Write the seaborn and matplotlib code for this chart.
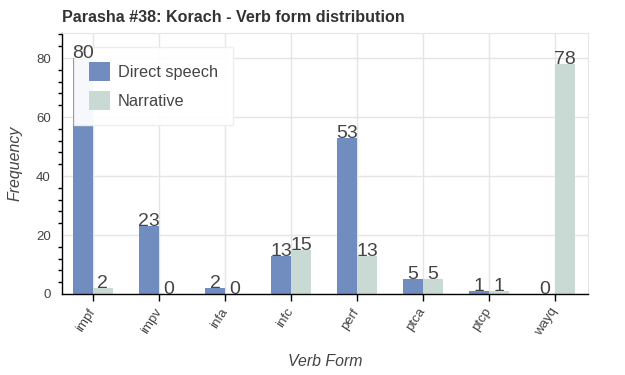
import numpy as np
import pandas as pd
import matplotlib
matplotlib.use("Agg")
import matplotlib.pyplot as plt
from matplotlib.patches import Patch
from matplotlib.ticker import MultipleLocator
import seaborn as sns

# verb form counts for Korach
forms = ["impf", "impv", "infa", "infc", "perf", "ptca", "ptcp", "wayq"]
direct_speech = [80, 23, 2, 13, 53, 5, 1, 0]
narrative = [2, 0, 0, 15, 13, 5, 1, 78]
series_names = ["Direct speech", "Narrative"]
colors = ["#718dbf", "#c9d9d3"]

df = pd.DataFrame({
    "form": forms * 2,
    "count": direct_speech + narrative,
    "type": [series_names[0]] * len(forms) + [series_names[1]] * len(forms),
})

sns.set_style("white")
plt.rcParams["font.family"] = ["Liberation Sans", "DejaVu Sans"]
txt = "#444444"

fig = plt.figure(figsize=(6.25, 3.75), dpi=100)
ax = fig.add_axes([62 / 625, 1 - 294 / 375, 526 / 625, 261 / 375])

sns.barplot(data=df, x="form", y="count", hue="type", palette=colors,
            saturation=1, width=0.6, gap=0, ax=ax, legend=False,
            edgecolor="none", linewidth=0, zorder=2)

# value labels on top of each bar (drawn above the legend, like the original)
for cont in ax.containers:
    for bar in cont:
        h = bar.get_height()
        ax.text(bar.get_x() + bar.get_width() / 2, h, f"{int(h)}",
                ha="center", va="baseline", fontsize=14, color=txt, zorder=10)

ax.set_xlim(-0.47, 7.5)
ax.set_ylim(0, 88.5)
ax.yaxis.set_major_locator(MultipleLocator(20))
ax.yaxis.set_minor_locator(MultipleLocator(4))

ax.grid(True, which="major", color="#e5e5e5", linewidth=1, zorder=0)
ax.set_axisbelow(True)

for s in ["top", "right"]:
    ax.spines[s].set_color("#e5e5e5")
    ax.spines[s].set_linewidth(0.8)
for s in ["left", "bottom"]:
    ax.spines[s].set_color("black")
    ax.spines[s].set_linewidth(1)

ax.tick_params(axis="both", which="major", direction="out", length=5, width=1,
               color="black", labelcolor=txt, labelsize=9.5, pad=3)
ax.tick_params(axis="y", which="minor", direction="out", length=3, width=1,
               color="black", left=True)
ax.tick_params(axis="x", which="major", bottom=True, pad=6)
plt.setp(ax.get_xticklabels(), rotation=57, ha="right", va="center",
         rotation_mode="anchor")

ax.set_xlabel("Verb Form", fontsize=11.4, style="italic", color=txt)
ax.xaxis.set_label_coords(0.5, (294 - 362) / 261)
ax.xaxis.label.set_va("center")
ax.set_ylabel("Frequency", fontsize=11.4, style="italic", color=txt)
ax.yaxis.set_label_coords((15 - 62) / 526, 0.5)
ax.yaxis.label.set_va("center")
ax.set_title("Parasha #38: Korach - Verb form distribution", loc="left",
             fontsize=11.6, fontweight="bold", color="#333333", pad=8, x=0)

handles = [Patch(facecolor=c, edgecolor="none") for c in colors]
leg = ax.legend(handles, series_names, loc="upper left",
                bbox_to_anchor=(0.023, 0.946), fontsize=11.7, frameon=True,
                fancybox=False, framealpha=0.95, edgecolor="#eeeeee",
                handlelength=1.3, handleheight=1.45, labelspacing=0.6,
                handletextpad=0.5, borderpad=0.9, borderaxespad=0)
leg.set_zorder(5)
for t in leg.get_texts():
    t.set_color(txt)

fig.savefig("out.png", dpi=100)
